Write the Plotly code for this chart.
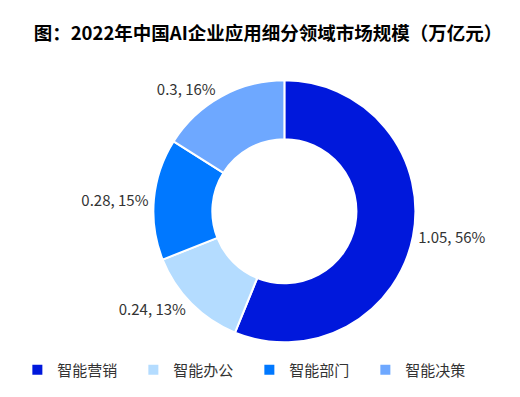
import plotly.graph_objects as go

categories = ["智能营销", "智能办公", "智能部门", "智能决策"]
values = [1.05, 0.24, 0.28, 0.3]
colors = ["#0018DC", "#B4DCFF", "#0078FF", "#6EA8FF"]
title = "图：2022年中国AI企业应用细分领域市场规模（万亿元）"

font_family = "Noto Sans CJK SC, Microsoft YaHei, sans-serif"

fig = go.Figure(go.Pie(
    labels=categories,
    values=values,
    hole=0.55,
    sort=False,
    direction="clockwise",
    rotation=0,
    marker=dict(colors=colors, line=dict(color="white", width=2)),
    texttemplate="%{value}, %{percent:.0%}",
    textposition="outside",
    textfont=dict(size=15, color="#333333", family=font_family),
    outsidetextfont=dict(size=15, color="#333333", family=font_family),
    domain=dict(x=[0.2765, 0.7865], y=[0.158, 0.818]),
    showlegend=True,
    hoverinfo="label+value+percent",
))

fig.update_layout(
    width=520, height=397,
    margin=dict(l=0, r=0, t=0, b=0),
    paper_bgcolor="white",
    plot_bgcolor="white",
    font=dict(family=font_family, color="#333333"),
    title=dict(text="<b>" + title + "</b>", x=0.5, xanchor="center",
               y=0.935, yanchor="middle",
               font=dict(size=18.5, color="#000000", family=font_family)),
    legend=dict(orientation="h", x=0.018, xanchor="left", y=0.088, yanchor="middle",
                font=dict(size=15, color="#333333", family=font_family),
                itemwidth=30, traceorder="normal", entrywidth=71),
)

fig.write_html("out.html")
